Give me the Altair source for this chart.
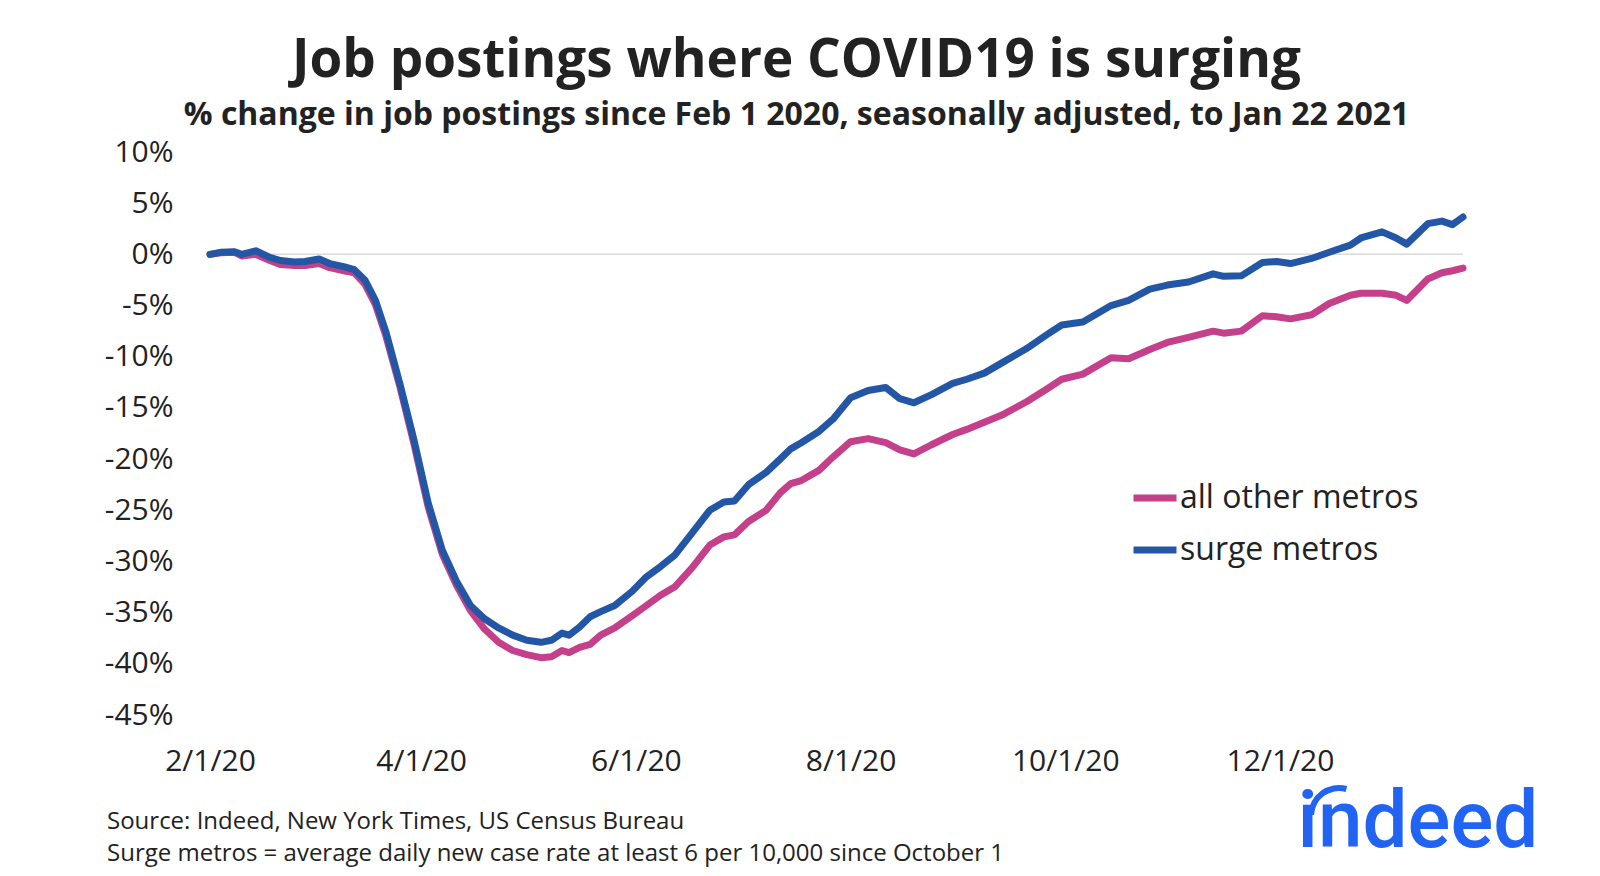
import altair as alt
import pandas as pd

# ---- data ----
dates = [
    "2020-02-01", "2020-02-04", "2020-02-08", "2020-02-10", "2020-02-14", "2020-02-18",
    "2020-02-21", "2020-02-25", "2020-02-28", "2020-03-03", "2020-03-06", "2020-03-10",
    "2020-03-13", "2020-03-16", "2020-03-19", "2020-03-22", "2020-03-26", "2020-03-30",
    "2020-04-03", "2020-04-07", "2020-04-11", "2020-04-15", "2020-04-19", "2020-04-23",
    "2020-04-27", "2020-05-01", "2020-05-05", "2020-05-08", "2020-05-11", "2020-05-13",
    "2020-05-16", "2020-05-19", "2020-05-22", "2020-05-26", "2020-05-31", "2020-06-04",
    "2020-06-08", "2020-06-12", "2020-06-17", "2020-06-22", "2020-06-26", "2020-06-29",
    "2020-07-03", "2020-07-08", "2020-07-12", "2020-07-15", "2020-07-18", "2020-07-23",
    "2020-07-27", "2020-08-01", "2020-08-06", "2020-08-11", "2020-08-15", "2020-08-19",
    "2020-08-24", "2020-08-30", "2020-09-03", "2020-09-08", "2020-09-13", "2020-09-20",
    "2020-09-26", "2020-09-30", "2020-10-06", "2020-10-14", "2020-10-19", "2020-10-25",
    "2020-10-30", "2020-11-05", "2020-11-12", "2020-11-15", "2020-11-20", "2020-11-26",
    "2020-11-30", "2020-12-04", "2020-12-10", "2020-12-15", "2020-12-21", "2020-12-24",
    "2020-12-30", "2021-01-03", "2021-01-06", "2021-01-12", "2021-01-16", "2021-01-19",
    "2021-01-22",
]

surge_metros = [
    0.0, 0.2, 0.25, 0.0, 0.35, -0.3,
    -0.6, -0.75, -0.7, -0.45, -0.9, -1.2,
    -1.5, -2.5, -4.5, -7.6, -12.7, -18.2,
    -24.3, -28.9, -31.9, -34.3, -35.6, -36.5,
    -37.2, -37.7, -37.9, -37.7, -37.0, -37.2,
    -36.4, -35.4, -34.9, -34.3, -32.9, -31.5,
    -30.5, -29.4, -27.2, -25.0, -24.2, -24.1,
    -22.5, -21.3, -20.0, -19.0, -18.4, -17.3,
    -16.1, -14.0, -13.3, -13.0, -14.1, -14.5,
    -13.7, -12.6, -12.2, -11.6, -10.6, -9.2,
    -7.8, -6.9, -6.6, -5.0, -4.5, -3.4,
    -3.0, -2.7, -1.9, -2.15, -2.1, -0.8,
    -0.7, -0.9, -0.4, 0.2, 0.9, 1.6,
    2.2, 1.6, 1.0, 3.0, 3.25, 2.9,
    3.65,
]

all_other_metros = [
    0.0, 0.15, 0.2, -0.15, 0.0, -0.6,
    -1.0, -1.1, -1.1, -0.9, -1.3, -1.6,
    -1.8, -2.9, -4.9, -8.0, -13.0, -18.6,
    -24.7, -29.3, -32.3, -34.8, -36.6, -37.9,
    -38.7, -39.1, -39.4, -39.3, -38.7, -38.9,
    -38.4, -38.1, -37.2, -36.5, -35.3, -34.3,
    -33.3, -32.5, -30.6, -28.4, -27.6, -27.4,
    -26.1, -25.0, -23.3, -22.4, -22.1, -21.1,
    -19.8, -18.3, -18.0, -18.4, -19.1, -19.5,
    -18.6, -17.6, -17.1, -16.4, -15.7, -14.4,
    -13.1, -12.2, -11.7, -10.1, -10.2, -9.3,
    -8.6, -8.1, -7.5, -7.7, -7.5, -6.0,
    -6.1, -6.3, -5.9, -4.8, -4.0, -3.8,
    -3.8, -4.0, -4.5, -2.4, -1.8, -1.6,
    -1.35,
]

series_names = ["all other metros", "surge metros"]
series_colors = ["#C5408A", "#2456A6"]
y_ticks = [10, 5, 0, -5, -10, -15, -20, -25, -30, -35, -40, -45]
x_tick_dates = [(2020, 2), (2020, 4), (2020, 6), (2020, 8), (2020, 10), (2020, 12)]

title_text = "Job postings where COVID19 is surging"
subtitle_text = "% change in job postings since Feb 1 2020, seasonally adjusted, to Jan 22 2021"
source_note = "Source: Indeed, New York Times, US Census Bureau"
surge_note = "Surge metros = average daily new case rate at least 6 per 10,000 since October 1"
logo_text = "indeed"

FONT = "Open Sans"
TXT = "#222222"
LOGO_BLUE = "#2164F3"

rows = []
for name, vals in zip(series_names, [all_other_metros, surge_metros]):
    for d, v in zip(dates, vals):
        rows.append({"date": d + "T00:00:00", "value": v, "series": name})
df = pd.DataFrame(rows)

y_scale = alt.Scale(domain=[-45, 10], nice=False, zero=False)
x_scale = alt.Scale(domain=[alt.DateTime(year=2020, month=2, date=1),
                            alt.DateTime(year=2021, month=1, date=22)], nice=False)

x_axis = alt.Axis(
    values=[alt.DateTime(year=y, month=m, date=1) for y, m in x_tick_dates],
    format="%-m/%-d/%y", labelFontSize=30, labelFont=FONT, labelColor=TXT,
    labelPadding=31, labelFlush=False, labelOverlap=False,
    domain=False, ticks=False, grid=False, title=None,
)
y_axis = alt.Axis(
    values=y_ticks, labelExpr="datum.value + '%'", labelFontSize=30, labelFont=FONT,
    labelColor=TXT, labelPadding=37, labelOverlap=False,
    domain=False, ticks=False, grid=False, title=None,
)

zero_rule = alt.Chart(pd.DataFrame({"y": [0]})).mark_rule(
    color="#d9d9d9", strokeWidth=1.5
).encode(y=alt.Y("y:Q", scale=y_scale, axis=y_axis))

lines = alt.Chart(df).mark_line(strokeWidth=7, strokeCap="round", strokeJoin="round").encode(
    x=alt.X("date:T", scale=x_scale, axis=x_axis),
    y=alt.Y("value:Q", scale=y_scale, axis=y_axis),
    color=alt.Color(
        "series:N",
        scale=alt.Scale(domain=series_names, range=series_colors),
        legend=alt.Legend(
            orient="none", legendX=920, legendY=321, title=None,
            symbolType="stroke", symbolStrokeWidth=7, symbolSize=1849,
            labelFontSize=32, labelFont=FONT, labelColor=TXT, labelLimit=0,
            rowPadding=11, labelOffset=0,
        ),
    ),
    order=alt.Order("series:N"),
)

def note(text, y):
    return alt.Chart(pd.DataFrame({"t": [text]})).mark_text(
        align="left", baseline="middle", fontSize=24, font=FONT, color=TXT
    ).encode(x=alt.value(-103), y=alt.value(y), text="t:N")

logo = alt.Chart(pd.DataFrame({"t": [logo_text]})).mark_text(
    align="center", baseline="alphabetic", fontSize=80, font="Roboto",
    fontWeight=500, color=LOGO_BLUE
).encode(x=alt.value(1208), y=alt.value(695), text="t:N")

logo_swoosh = alt.Chart(pd.DataFrame({"t": [logo_text]})).mark_arc(
    radius=31, radius2=25, theta=4.75, theta2=6.55, color=LOGO_BLUE
).encode(x=alt.value(1129), y=alt.value(664))

chart = alt.layer(
    zero_rule, lines, note(source_note, 670), note(surge_note, 702), logo, logo_swoosh
).properties(
    width=1253, height=563,
    padding={"left": 202, "top": 144, "right": 100, "bottom": 152},
    autosize=alt.AutoSizeParams(type="none"),
    title=alt.Title(
        text=title_text, subtitle=subtitle_text,
        font=FONT, fontSize=53, fontWeight="bold", color=TXT,
        subtitleFont=FONT, subtitleFontSize=32, subtitleFontWeight="bold",
        subtitleColor=TXT, subtitlePadding=12,
        anchor="middle", frame="group", dx=-40, offset=6,
    ),
).configure(background="white").configure_view(stroke=None)

chart.save("out.html", embed_options={"renderer": "svg", "actions": False})
